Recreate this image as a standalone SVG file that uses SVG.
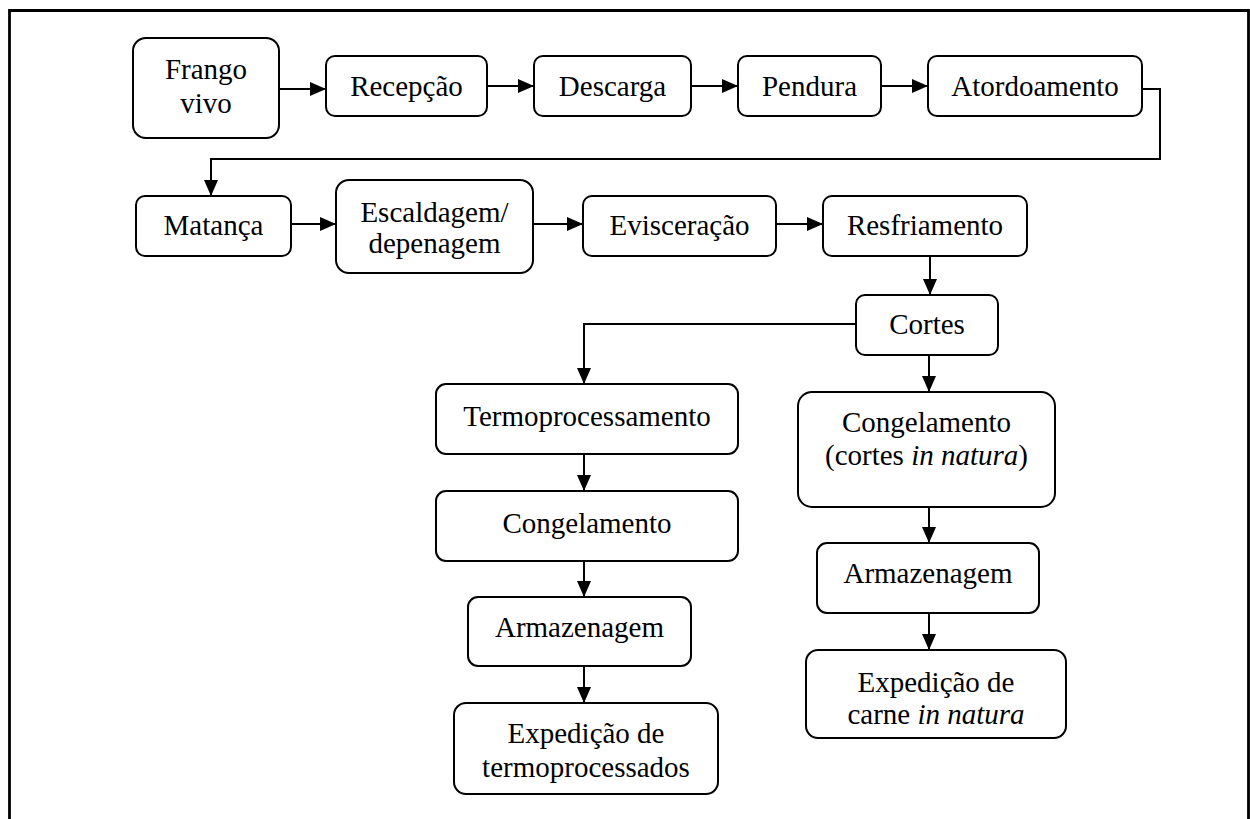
<svg xmlns="http://www.w3.org/2000/svg" width="1250" height="819" viewBox="0 0 1250 819">
  <style>
    .box { fill: #ffffff; stroke: #000000; stroke-width: 2; }
    .lbl { font-family: "Liberation Serif", "Times New Roman", serif; font-size: 29px; fill: #000000; text-anchor: middle; }
    .link { fill: none; stroke: #000000; stroke-width: 2; }
    .frame { fill: none; stroke: #000000; stroke-width: 2.8; }
  </style>
  <defs>
    <marker id="arrow" markerUnits="userSpaceOnUse" markerWidth="17" markerHeight="16" refX="16" refY="7" orient="auto">
      <path d="M0,0 L16,7 L0,14 z" fill="#000000"/>
    </marker>
  </defs>

  <rect width="1250" height="819" fill="#ffffff"/>
  <!-- outer frame (runs off the bottom edge) -->
  <path class="frame" d="M9.5,830 V10.5 H1248.5 V830"/>

  <!-- connectors -->
  <g id="connectors" class="link">
    <path d="M279,89 H326" marker-end="url(#arrow)"/>
    <path d="M487,86 H534" marker-end="url(#arrow)"/>
    <path d="M691,86 H738" marker-end="url(#arrow)"/>
    <path d="M881,86 H928" marker-end="url(#arrow)"/>
    <path d="M1142,89 H1160 V159 H211 V196" marker-end="url(#arrow)"/>
    <path d="M291,224 H336" marker-end="url(#arrow)"/>
    <path d="M533,224 H583" marker-end="url(#arrow)"/>
    <path d="M776,224 H823" marker-end="url(#arrow)"/>
    <path d="M930,256 V295" marker-end="url(#arrow)"/>
    <path d="M856,324 H584 V384" marker-end="url(#arrow)"/>
    <path d="M584,454 V491" marker-end="url(#arrow)"/>
    <path d="M584,561 V597" marker-end="url(#arrow)"/>
    <path d="M584,666 V703" marker-end="url(#arrow)"/>
    <path d="M929,355 V392" marker-end="url(#arrow)"/>
    <path d="M929,507 V543" marker-end="url(#arrow)"/>
    <path d="M929,613 V650" marker-end="url(#arrow)"/>
  </g>

  <!-- process steps -->
  <g id="frango-vivo">
    <rect class="box" x="133" y="38" width="146" height="100" rx="13"/>
    <text class="lbl" x="206" y="79">Frango</text>
    <text class="lbl" x="206" y="113">vivo</text>
  </g>
  <g id="recepcao">
    <rect class="box" x="326" y="56" width="161" height="60" rx="9"/>
    <text class="lbl" x="406.5" y="96">Recepção</text>
  </g>
  <g id="descarga">
    <rect class="box" x="534" y="56" width="157" height="60" rx="9"/>
    <text class="lbl" x="612.5" y="96">Descarga</text>
  </g>
  <g id="pendura">
    <rect class="box" x="738" y="56" width="143" height="60" rx="9"/>
    <text class="lbl" x="809.5" y="96">Pendura</text>
  </g>
  <g id="atordoamento">
    <rect class="box" x="928" y="56" width="214" height="60" rx="9"/>
    <text class="lbl" x="1035" y="96">Atordoamento</text>
  </g>
  <g id="matanca">
    <rect class="box" x="136" y="196" width="155" height="60" rx="9"/>
    <text class="lbl" x="213.5" y="235">Matança</text>
  </g>
  <g id="escaldagem">
    <rect class="box" x="336" y="180" width="197" height="93" rx="13"/>
    <text class="lbl" x="434.5" y="222">Escaldagem/</text>
    <text class="lbl" x="434.5" y="253">depenagem</text>
  </g>
  <g id="evisceracao">
    <rect class="box" x="583" y="196" width="193" height="60" rx="9"/>
    <text class="lbl" x="679.5" y="235">Evisceração</text>
  </g>
  <g id="resfriamento">
    <rect class="box" x="823" y="196" width="204" height="60" rx="9"/>
    <text class="lbl" x="925" y="235">Resfriamento</text>
  </g>
  <g id="cortes">
    <rect class="box" x="856" y="295" width="142" height="60" rx="9"/>
    <text class="lbl" x="927" y="334">Cortes</text>
  </g>
  <g id="termoprocessamento">
    <rect class="box" x="436" y="384" width="302" height="70" rx="10"/>
    <text class="lbl" x="587" y="426">Termoprocessamento</text>
  </g>
  <g id="congelamento-termo">
    <rect class="box" x="436" y="491" width="302" height="70" rx="10"/>
    <text class="lbl" x="587" y="533">Congelamento</text>
  </g>
  <g id="armazenagem-termo">
    <rect class="box" x="468" y="597" width="223" height="69" rx="10"/>
    <text class="lbl" x="579.5" y="637">Armazenagem</text>
  </g>
  <g id="expedicao-termo">
    <rect class="box" x="454" y="703" width="264" height="91" rx="12"/>
    <text class="lbl" x="586" y="743">Expedição de</text>
    <text class="lbl" x="586" y="777">termoprocessados</text>
  </g>
  <g id="congelamento-natura">
    <rect class="box" x="798" y="392" width="257" height="115" rx="14"/>
    <text class="lbl" x="926.5" y="432">Congelamento</text>
    <text class="lbl" x="926.5" y="465">(cortes <tspan font-style="italic">in natura</tspan>)</text>
  </g>
  <g id="armazenagem-natura">
    <rect class="box" x="817" y="543" width="222" height="70" rx="10"/>
    <text class="lbl" x="928" y="583">Armazenagem</text>
  </g>
  <g id="expedicao-natura">
    <rect class="box" x="806" y="650" width="260" height="88" rx="12"/>
    <text class="lbl" x="936" y="692">Expedição de</text>
    <text class="lbl" x="936" y="724">carne <tspan font-style="italic">in natura</tspan></text>
  </g>
</svg>
